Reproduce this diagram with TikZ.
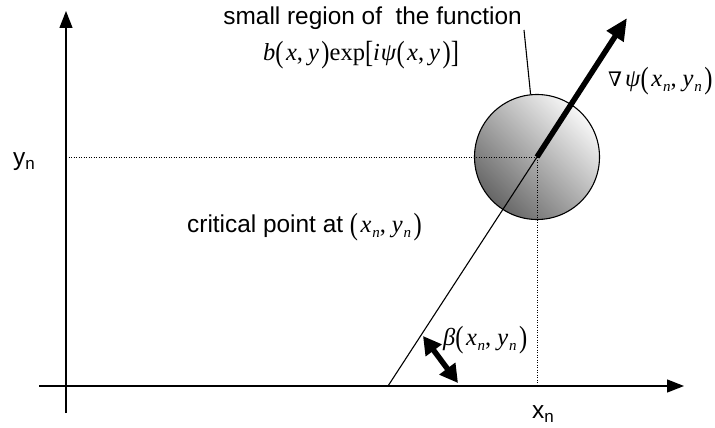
\documentclass[tikz,border=0pt]{standalone}
\usepackage{fontspec}
\setmainfont{Liberation Sans}
\newfontfamily\tms{Liberation Serif}
\newfontfamily\djs{DejaVu Serif}
\usetikzlibrary{arrows.meta}
\newcommand\mi[1]{\textit{#1}}
\newcommand\mlp{\raisebox{-2.5pt}{\scalebox{1}[1.25]{(}}\hspace{2.5pt}}
\newcommand\mrp{\hspace{2.5pt}\raisebox{-2.5pt}{\scalebox{1}[1.25]{)}}}
\newcommand\msub{\hspace{0.8pt}\raisebox{-5.5pt}{\fontsize{15}{15}\selectfont\itshape n}}
\newcommand\ssub{\raisebox{-4pt}{\fontsize{17}{17}\selectfont n}}
\newcommand\xnyn{\mlp\mi{x}\msub,\hspace{6pt}\mi{y}\msub\mrp}
\begin{document}
\begin{tikzpicture}[x=1pt,y=-1pt,
  axis/.style={line width=1.3pt,-{Triangle[width=13pt,length=17pt]}},
  guide/.style={line width=0.9pt,dash pattern=on 1pt off 1.5pt},
  thin line/.style={line width=1.1pt},
  bigarrow/.style={line width=5.5pt,-{Triangle[width=19pt,length=22pt]}},
  dblarrow/.style={line width=5.5pt,{Triangle[width=19pt,length=18pt]}-{Triangle[width=19pt,length=18pt]}},
  lbl/.style={font=\fontsize{24.4}{27}\selectfont,inner sep=0pt},
  mth/.style={font=\tms\fontsize{24.5}{27}\selectfont,inner sep=0pt}]
\useasboundingbox (0,0) rectangle (715,428);
% key points
\coordinate (xs) at (39,386);
\coordinate (xe) at (684,386);
\coordinate (ys) at (66,413);
\coordinate (ye) at (66,11);
\coordinate (yl) at (66,157);
\coordinate (xl) at (537,386);
\coordinate (base) at (388,386);
\coordinate (tip) at (627,18);
\coordinate (ptr) at (524,30);
\coordinate (b1) at (423,336);
\coordinate (b2) at (458,383);
% circle
\node[circle,draw,line width=1.1pt,minimum size=125pt,inner sep=0pt,
  shade,top color=black!3,bottom color=black!60,shading angle=-45] (blob) at (537,157) {};
% axes
\draw[axis] (xs) -- (xe);
\draw[axis] (ys) -- (ye);
% guides
\draw[guide] (yl) -- (blob.center);
\draw[guide] (blob.center) -- (xl);
% slanted line and gradient arrow
\draw[thin line] (base) -- (blob.center);
\draw[bigarrow] (blob.center) -- (tip);
% pointer
\draw[thin line] (ptr) -- (blob);
% beta arrow
\draw[dblarrow] (b1) -- (b2);
% labels
\node[lbl,anchor=base east] (title) at (522,25) {small region of\ \ the function};
\node[mth,anchor=base west] (func) at (263,60) {\mi{b}\mlp\mi{x},\hspace{5pt}\mi{y}\mrp{}exp\raisebox{-2.5pt}{\scalebox{1}[1.25]{[}}\mi{i}\hspace{1pt}\mi{ψ}\mlp\mi{x},\hspace{5pt}\mi{y}\mrp\raisebox{-2.5pt}{\scalebox{1}[1.25]{]}}};
\node[mth,anchor=base west] (grad) at (608,86) {{\djs\fontsize{20}{22}\selectfont ∇}\hspace{3pt}\mi{ψ}\xnyn};
\node[lbl,anchor=base west] (ylab) at (13,165) {y\ssub};
\node[lbl,anchor=base west] (xlab) at (532,418) {x\ssub};
\node[lbl,anchor=base west] (crit) at (187,232) {critical point at {\tms\fontsize{24.5}{27}\selectfont\xnyn}};
\node[mth,anchor=base west] (beta) at (443,345) {\mi{β}\xnyn};
\end{tikzpicture}
\end{document}
